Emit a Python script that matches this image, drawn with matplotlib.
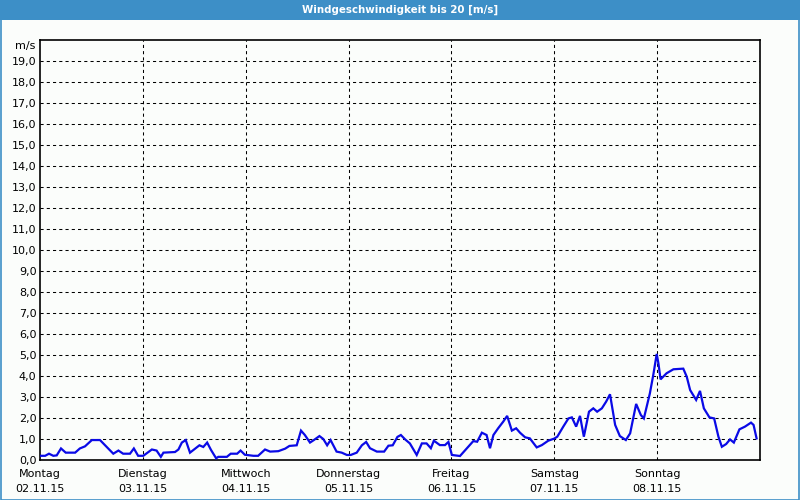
import matplotlib
matplotlib.use("Agg")
import matplotlib.pyplot as plt
from matplotlib.patches import Rectangle

title = "Windgeschwindigkeit bis 20 [m/s]"
unit = "m/s"
day_names = ["Montag", "Dienstag", "Mittwoch", "Donnerstag", "Freitag", "Samstag", "Sonntag"]
day_dates = ["02.11.15", "03.11.15", "04.11.15", "05.11.15", "06.11.15", "07.11.15", "08.11.15"]

# time in hours since Monday 00:00
hours = [0.2, 1.2, 2.1, 3.1, 3.9, 4.9, 6.0, 8.2, 9.3, 10.5, 12.1, 14.0, 15.2, 17.1, 18.3,
         19.4, 21.0, 21.9, 22.9, 24.1, 26.1, 27.2, 28.2, 28.8, 31.5, 32.3, 33.1, 34.0, 35.0,
         37.2, 38.1, 39.0, 39.9, 41.1, 41.6, 43.6, 44.5, 46.0, 46.8, 47.8, 49.8, 50.9, 52.5,
         53.7, 55.6, 57.2, 58.2, 59.9, 60.9, 61.8, 63.0, 63.9, 65.2, 66.1, 67.0, 67.8, 69.2,
         70.4, 71.6, 72.5, 73.9, 75.1, 76.1, 77.0, 78.6, 80.3, 81.3, 82.3, 83.4, 84.2, 85.2,
         86.3, 87.9, 89.1, 90.2, 91.2, 91.9, 93.3, 94.5, 95.3, 96.1, 98.0, 99.6, 101.1, 102.0,
         103.1, 104.2, 105.0, 105.8, 106.9, 108.1, 109.0, 110.1, 111.1, 112.0, 113.2, 114.3,
         115.9, 117.1, 118.6, 120.0, 120.7, 122.1, 123.3, 124.1, 125.1, 126.0, 126.9, 128.1,
         129.1, 130.0, 131.1, 132.1, 133.0, 134.2, 135.3, 136.7, 137.7, 139.1, 140.2, 140.9,
         142.3, 143.1, 143.9, 144.3, 144.8, 146.2, 147.8, 150.1, 150.9, 151.7, 153.1, 154.0,
         154.9, 156.2, 157.3, 158.3, 159.1, 160.1, 161.0, 161.9, 163.2, 164.5, 165.9, 166.5,
         167.2]
speed = [0.2, 0.2, 0.3, 0.2, 0.22, 0.55, 0.35, 0.35, 0.55, 0.65, 0.95, 0.95, 0.7, 0.3, 0.45,
         0.3, 0.3, 0.55, 0.2, 0.2, 0.5, 0.45, 0.15, 0.35, 0.38, 0.5, 0.83, 0.95, 0.35,
         0.7, 0.62, 0.83, 0.48, 0.08, 0.15, 0.15, 0.3, 0.3, 0.45, 0.25, 0.2, 0.2, 0.5,
         0.4, 0.42, 0.54, 0.67, 0.7, 1.4, 1.19, 0.83, 0.95, 1.14, 1.0, 0.7, 0.95, 0.4,
         0.35, 0.24, 0.24, 0.35, 0.7, 0.86, 0.56, 0.4, 0.4, 0.68, 0.7, 1.1, 1.19, 0.98,
         0.79, 0.24, 0.79, 0.79, 0.56, 0.92, 0.71, 0.71, 0.86, 0.24, 0.19, 0.56, 0.9, 0.87,
         1.3, 1.19, 0.56, 1.19, 1.51, 1.83, 2.1, 1.4, 1.51, 1.3, 1.08, 1.03,
         0.6, 0.71, 0.92, 1.02, 1.11, 1.59, 1.98, 2.03, 1.59, 2.1, 1.11, 2.3,
         2.46, 2.3, 2.46, 2.78, 3.13, 1.67, 1.14, 0.95, 1.27, 2.67, 2.14, 1.98,
         3.17, 4.05, 5.05, 4.6, 3.84, 4.13, 4.32, 4.35, 3.97, 3.33, 2.86, 3.29,
         2.46, 2.03, 1.98, 1.11, 0.63, 0.76, 0.98, 0.83, 1.46, 1.59, 1.78, 1.67,
         1.03]

W, H = 800, 500
fig = plt.figure(figsize=(W / 100, H / 100), dpi=100)
bg = "#fbfdfb"
blue_bar = "#3d8fc7"
fig.patch.set_facecolor(bg)

# title bar and frame
fig.patches.append(Rectangle((0, 480 / H), 1, 20 / H, transform=fig.transFigure,
                             facecolor=blue_bar, edgecolor="none", zorder=0))
fig.patches.append(Rectangle((0.5 / W, 0.5 / H), 1 - 1.5 / W, 1 - 1.5 / H, transform=fig.transFigure,
                             facecolor="none", edgecolor=blue_bar, linewidth=1.2, zorder=5))
fig.text(0.5, 1 - 10 / H, title, color="white", fontsize=7.4, fontweight="bold",
         ha="center", va="center", family="DejaVu Sans")

ax = fig.add_axes([40 / W, 40 / H, 720 / W, 420 / H])
ax.set_facecolor(bg)
ax.set_xlim(0, 168)
ax.set_ylim(0, 20)

for v in range(1, 20):
    ax.axhline(v, color="black", lw=0.75, linestyle=(0, (3, 3)), zorder=1)
for d in range(1, 7):
    ax.axvline(d * 24, color="black", lw=0.75, linestyle=(0, (3, 3)), zorder=1)

ax.plot(hours, speed, color="#0a0ae6", lw=1.6, zorder=3, solid_joinstyle="miter")

ax.set_yticks(range(0, 20))
ax.set_yticklabels([f"{v},0" for v in range(0, 20)])
ax.set_xticks([d * 24 for d in range(7)])
ax.set_xticklabels([f"{n}\n{dt}" for n, dt in zip(day_names, day_dates)], linespacing=1.6)
ax.tick_params(axis="both", length=0, labelsize=8, colors="black")
ax.tick_params(axis="y", pad=2.5)
ax.tick_params(axis="x", pad=6.5)
ax.annotate(unit, xy=(0, 19.7), xycoords=("axes fraction", "data"), xytext=(-3, 0),
            textcoords="offset points", fontsize=8, ha="right", va="center")

for s in ax.spines.values():
    s.set_linewidth(1.2)
    s.set_color("black")

fig.savefig("out.png", dpi=100, facecolor=bg)
